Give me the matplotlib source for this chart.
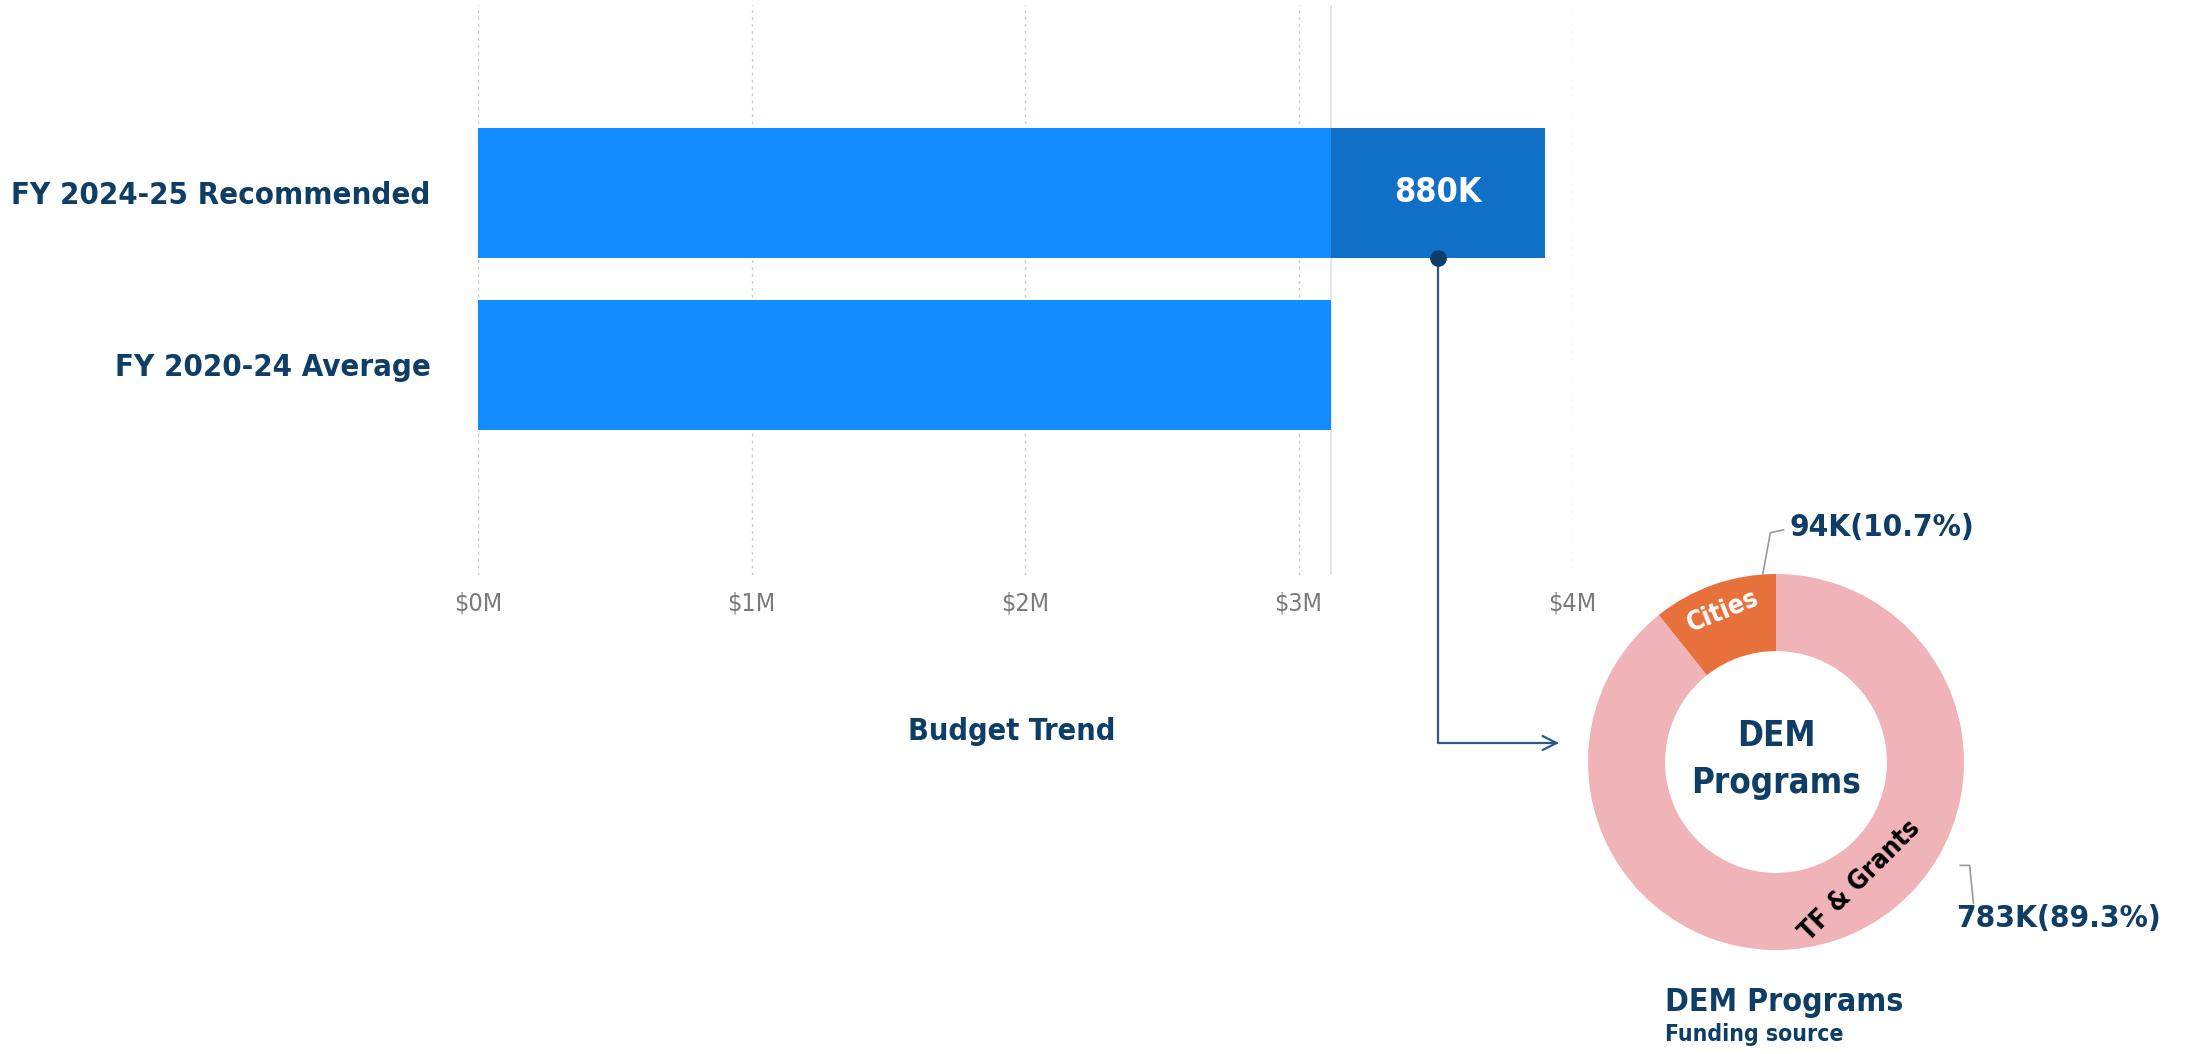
import matplotlib
matplotlib.use("Agg")
import matplotlib.pyplot as plt
from matplotlib.ticker import FuncFormatter

plt.rcParams['font.family'] = ['DejaVu Sans']
plt.rcParams['font.stretch'] = 'condensed'

# data
categories = ["FY 2020-24 Average", "FY 2024-25 Recommended"]
avg_value = 3.12          # $M
rec_value = 3.90          # $M
increase_label = "880K"
ticks = [0, 1, 2, 3, 4]

donut_labels = ["Cities", "TF & Grants"]
donut_values = [94, 783]  # K
donut_pcts = [10.7, 89.3]

navy = "#0e3d66"
W, H = 2189, 1054
fig = plt.figure(figsize=(W / 100, H / 100), dpi=100)


def px_box(x0, y0, x1, y1):
    # pixel box (top-left origin) -> figure fraction rect
    return [x0 / W, 1 - y1 / H, (x1 - x0) / W, (y1 - y0) / H]


# ---- bar chart ----
ax = fig.add_axes(px_box(478, 5, 1572, 575))
ax.set_xlim(0, 4)
ax.set_ylim(-1.22, 2.09)
ax.barh([0, 1], [avg_value, avg_value], height=0.756, color="#138cff")
ax.barh(1, rec_value - avg_value, left=avg_value, height=0.756, color="#1070c8")
ax.text((avg_value + rec_value) / 2, 1, increase_label, color="white", fontsize=24.5,
        fontweight="bold", ha="center", va="center")

for t in ticks:
    ax.axvline(t, color="#cccccc", lw=1, ls=(0, (2, 3)), zorder=0)
ax.axvline(avg_value, color="#e2e2e2", lw=1.2, zorder=0)

ax.set_xticks(ticks)
ax.xaxis.set_major_formatter(FuncFormatter(lambda v, p: f"${v:.0f}M"))
ax.tick_params(axis="x", length=0, pad=12, labelsize=18, labelcolor="#7a7a7a")
ax.set_yticks([0, 1])
ax.set_yticklabels(categories)
ax.tick_params(axis="y", length=0, pad=34, labelsize=22.3, labelcolor=navy)
for lab in ax.get_yticklabels():
    lab.set_fontweight("bold")
for s in ax.spines.values():
    s.set_visible(False)

fig.text(1012 / W, 1 - 731 / H, "Budget Trend", fontsize=22, fontweight="bold",
         color=navy, ha="center", va="center")

# connector from increase segment to donut
bar_bottom = 1 - 0.756 / 2
ax.plot((avg_value + rec_value) / 2, bar_bottom, "o", color=navy, ms=11, zorder=5, clip_on=False)
ax.annotate("", xy=(1559, H - 743), xycoords="figure pixels",
            xytext=((avg_value + rec_value) / 2, bar_bottom), textcoords="data",
            arrowprops=dict(arrowstyle="->", color="#2a5a8a", lw=1.6, mutation_scale=25,
                            connectionstyle="angle,angleA=90,angleB=0,rad=0",
                            shrinkA=0, shrinkB=0))

# ---- donut ----
R = 188
cx, cy = 1776, 762
dax = fig.add_axes(px_box(cx - R, cy - R, cx + R, cy + R))
wedges, _ = dax.pie(donut_values, colors=["#e8703a", "#f0b3b8"], startangle=90,
                    counterclock=True, radius=1, wedgeprops=dict(width=0.41, edgecolor="none"))
dax.set_xlim(-1, 1)
dax.set_ylim(-1, 1)
dax.set_aspect("equal")
dax.axis("off")

dax.text(-0.28, 0.80, donut_labels[0], color="white", fontsize=19, fontweight="bold",
         rotation=22, ha="center", va="center")
dax.text(0.45, -0.63, donut_labels[1], color="black", fontsize=19, fontweight="bold",
         rotation=45, ha="center", va="center")

dax.text(0, 0.14, "DEM", color=navy, fontsize=25, fontweight="bold", ha="center", va="center")
dax.text(0, -0.11, "Programs", color=navy, fontsize=25, fontweight="bold", ha="center", va="center")

dax.plot([-0.07, -0.03, 0.04], [1.0, 1.22, 1.235], color="#9a9a9a", lw=1.2, clip_on=False)
dax.text(0.07, 1.245, f"{donut_values[0]}K({donut_pcts[0]}%)", color=navy, fontsize=22.6,
         fontweight="bold", ha="left", va="center", clip_on=False)
dax.plot([0.98, 1.03, 1.05], [-0.55, -0.55, -0.75], color="#9a9a9a", lw=1.2, clip_on=False)
dax.text(0.96, -0.83, f"{donut_values[1]}K({donut_pcts[1]}%)", color=navy, fontsize=22.6,
         fontweight="bold", ha="left", va="center", clip_on=False)

fig.text(1665 / W, 1 - 1003 / H, "DEM Programs", fontsize=23, fontweight="bold",
         color=navy, ha="left", va="center")
fig.text(1665 / W, 1 - 1035 / H, "Funding source", fontsize=16.5, fontweight="bold",
         color=navy, ha="left", va="center")

fig.savefig("out.png", dpi=100, facecolor="white")
